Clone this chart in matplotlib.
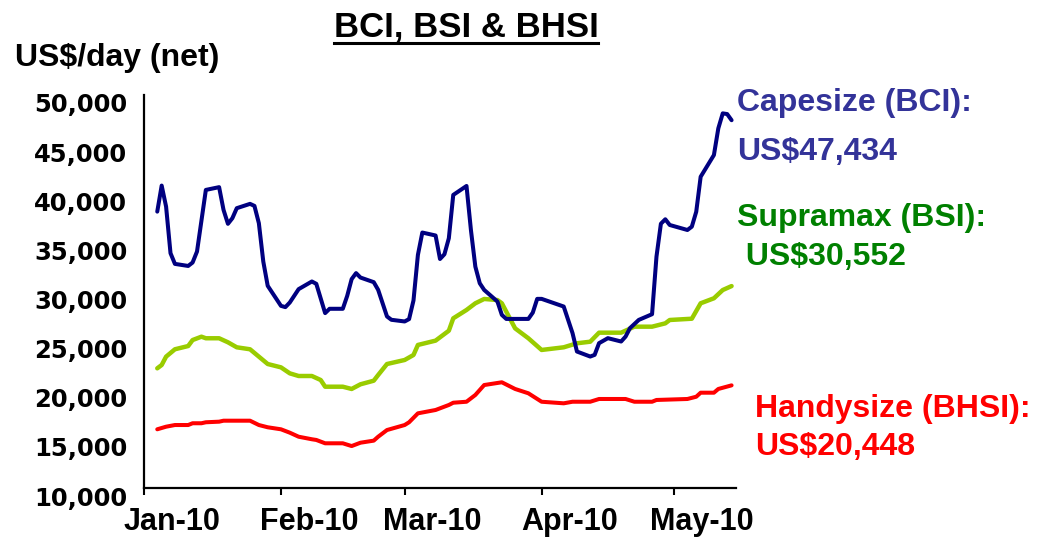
import matplotlib
matplotlib.use("Agg")
import matplotlib.pyplot as plt
import matplotlib.transforms as mtrans
import pandas as pd

# ---------------- data ----------------
bci_dates = ["2010-01-04", "2010-01-05", "2010-01-06", "2010-01-07", "2010-01-08",
             "2010-01-11", "2010-01-12", "2010-01-13", "2010-01-15", "2010-01-18",
             "2010-01-19", "2010-01-20", "2010-01-21", "2010-01-22", "2010-01-25",
             "2010-01-26", "2010-01-27", "2010-01-28", "2010-01-29", "2010-02-01",
             "2010-02-02", "2010-02-03", "2010-02-05", "2010-02-08", "2010-02-09",
             "2010-02-11", "2010-02-12", "2010-02-15", "2010-02-16", "2010-02-17",
             "2010-02-18", "2010-02-19", "2010-02-22", "2010-02-23", "2010-02-25",
             "2010-02-26", "2010-03-01", "2010-03-02", "2010-03-03", "2010-03-04",
             "2010-03-05", "2010-03-08", "2010-03-09", "2010-03-10", "2010-03-11",
             "2010-03-12", "2010-03-15", "2010-03-16", "2010-03-17", "2010-03-18",
             "2010-03-19", "2010-03-22", "2010-03-23", "2010-03-24", "2010-03-29",
             "2010-03-30", "2010-03-31", "2010-04-01", "2010-04-06", "2010-04-08",
             "2010-04-09", "2010-04-12", "2010-04-13", "2010-04-14", "2010-04-16",
             "2010-04-19", "2010-04-20", "2010-04-21", "2010-04-23", "2010-04-26",
             "2010-04-27", "2010-04-28", "2010-04-29", "2010-04-30", "2010-05-04",
             "2010-05-05", "2010-05-06", "2010-05-07", "2010-05-10", "2010-05-11",
             "2010-05-12", "2010-05-13", "2010-05-14"]
bci_values = [38130, 40780, 38640, 33900, 32810,
              32600, 32950, 34070, 40340, 40620,
              38310, 36890, 37460, 38480, 38920,
              38710, 36950, 33050, 30580, 28540,
              28410, 28880, 30240, 31020, 30780,
              27800, 28240, 28240, 29560, 31260,
              31870, 31420, 30950, 30170, 27460,
              27120, 26950, 27190, 29090, 33730,
              36000, 35700, 33310, 33790, 35420,
              39830, 40740, 36260, 32530, 30840,
              30160, 28980, 27620, 27210, 27210,
              27850, 29250, 29250, 28470, 25760,
              23890, 23380, 23550, 24740, 25250,
              24910, 25410, 26270, 27110, 27690,
              33550, 36900, 37350, 36770, 36260,
              36600, 38120, 41680, 43890, 46610,
              48130, 48060, 47434]

bsi_dates = ["2010-01-04", "2010-01-05", "2010-01-06", "2010-01-08", "2010-01-11",
             "2010-01-12", "2010-01-14", "2010-01-15", "2010-01-18", "2010-01-20",
             "2010-01-22", "2010-01-25", "2010-01-27", "2010-01-29", "2010-02-01",
             "2010-02-03", "2010-02-05", "2010-02-08", "2010-02-10", "2010-02-11",
             "2010-02-15", "2010-02-17", "2010-02-19", "2010-02-22", "2010-02-23",
             "2010-02-25", "2010-03-01", "2010-03-03", "2010-03-04", "2010-03-08",
             "2010-03-11", "2010-03-12", "2010-03-15", "2010-03-17", "2010-03-19",
             "2010-03-22", "2010-03-23", "2010-03-24", "2010-03-26", "2010-03-29",
             "2010-04-01", "2010-04-06", "2010-04-09", "2010-04-12", "2010-04-14",
             "2010-04-19", "2010-04-22", "2010-04-26", "2010-04-29", "2010-04-30",
             "2010-05-05", "2010-05-07", "2010-05-10", "2010-05-12", "2010-05-14"]
bsi_values = [22180, 22520, 23370, 24120, 24450,
              25060, 25400, 25240, 25240, 24830,
              24320, 24120, 23370, 22620, 22280,
              21670, 21400, 21400, 20990, 20310,
              20310, 20080, 20555, 20920, 21500,
              22620, 23030, 23540, 24560, 25000,
              26010, 27270, 28120, 28800, 29240,
              29130, 28800, 27950, 26250, 25240,
              24050, 24320, 24730, 24890, 25810,
              25810, 26420, 26420, 26760, 27100,
              27230, 28800, 29310, 30150, 30552]

bhsi_dates = ["2010-01-04", "2010-01-06", "2010-01-08", "2010-01-11", "2010-01-12",
              "2010-01-14", "2010-01-15", "2010-01-18", "2010-01-19", "2010-01-25",
              "2010-01-27", "2010-01-29", "2010-02-01", "2010-02-03", "2010-02-05",
              "2010-02-08", "2010-02-09", "2010-02-11", "2010-02-15", "2010-02-17",
              "2010-02-19", "2010-02-22", "2010-02-23", "2010-02-25", "2010-03-01",
              "2010-03-02", "2010-03-04", "2010-03-08", "2010-03-11", "2010-03-12",
              "2010-03-15", "2010-03-17", "2010-03-19", "2010-03-23", "2010-03-26",
              "2010-03-29", "2010-04-01", "2010-04-06", "2010-04-08", "2010-04-12",
              "2010-04-14", "2010-04-20", "2010-04-22", "2010-04-26", "2010-04-27",
              "2010-05-04", "2010-05-06", "2010-05-07", "2010-05-10", "2010-05-11",
              "2010-05-14"]
bhsi_values = [15975, 16240, 16410, 16410, 16590,
               16590, 16690, 16750, 16850, 16850,
               16410, 16180, 15975, 15630, 15220,
               14960, 14890, 14550, 14550, 14270,
               14610, 14820, 15220, 15900, 16410,
               16690, 17600, 17940, 18450, 18680,
               18780, 19470, 20480, 20760, 20080,
               19640, 18780, 18620, 18780, 18780,
               19060, 19060, 18780, 18780, 18960,
               19060, 19290, 19700, 19700, 20080,
               20448]

ytick_values = [10000, 15000, 20000, 25000, 30000, 35000, 40000, 45000, 50000]
ytick_labels = ["10,000", "15,000", "20,000", "25,000", "30,000",
                "35,000", "40,000", "45,000", "50,000"]
xtick_dates = ["2010-01-01", "2010-02-01", "2010-03-01", "2010-04-01", "2010-05-01"]
xtick_labels = ["Jan-10", "Feb-10", "Mar-10", "Apr-10", "May-10"]

title = "BCI, BSI & BHSI"
ylabel = "US$/day (net)"
bci_name = "Capesize (BCI):"
bsi_name = "Supramax (BSI):"
bhsi_name = "Handysize (BHSI):"

# ---------------- figure ----------------
W, H = 1049, 540
fig = plt.figure(figsize=(W / 100, H / 100), dpi=100)
ax = fig.add_axes([144 / W, 1 - 488 / H, 592 / W, 393 / H])

AR = "Liberation Sans"
DV = "DejaVu Sans"

ax.plot(pd.to_datetime(bsi_dates), bsi_values, color="#99CC00", lw=3.2,
        solid_joinstyle="round", solid_capstyle="round", zorder=2)
ax.plot(pd.to_datetime(bhsi_dates), bhsi_values, color="#FF0000", lw=2.9,
        solid_joinstyle="round", solid_capstyle="round", zorder=3)
ax.plot(pd.to_datetime(bci_dates), bci_values, color="#000080", lw=2.9,
        solid_joinstyle="round", solid_capstyle="round", zorder=4)

ax.set_ylim(10000, 50000)
ax.set_xlim(pd.Timestamp("2010-01-01"), pd.Timestamp("2010-05-15"))

for s in ["top", "right"]:
    ax.spines[s].set_visible(False)
for s in ["left", "bottom"]:
    ax.spines[s].set_linewidth(1.6)
    ax.spines[s].set_color("black")

ax.set_yticks(ytick_values, labels=ytick_labels, fontfamily=DV,
              fontweight="bold", fontsize=17.5)
ax.tick_params(axis="y", length=0, pad=12)
ax.set_xticks(pd.to_datetime(xtick_dates), labels=xtick_labels, fontfamily=AR,
              fontweight="bold", fontsize=22)
ax.tick_params(axis="x", direction="out", length=5, width=1.5, pad=9)

dy = mtrans.ScaledTranslation(0, -8 / 100, fig.dpi_scale_trans)
for t in ax.yaxis.get_major_ticks():
    t.label1.set_transform(t.label1.get_transform() + dy)
dx = mtrans.ScaledTranslation(28 / 100, 0, fig.dpi_scale_trans)
for t in ax.xaxis.get_major_ticks():
    t.label1.set_transform(t.label1.get_transform() + dx)


def fy(ypx):
    return 1 - ypx / H


# title with underline
ttl = fig.text(466 / W, fy(37), title, ha="center", va="baseline",
               fontsize=25, fontweight="bold", family=AR)
fig.canvas.draw()
bb = ttl.get_window_extent()
fig.add_artist(plt.Line2D([bb.x0 / W, bb.x1 / W], [fy(43), fy(43)],
                          color="black", lw=2.2, transform=fig.transFigure))

fig.text(15 / W, fy(66), ylabel, ha="left", va="baseline",
         fontsize=23, fontweight="bold", family=AR)

fs = 23
fig.text(737 / W, fy(111), bci_name, color="#333399", fontsize=fs,
         fontweight="bold", family=AR, va="baseline")
fig.text(737 / W, fy(160), f"US${bci_values[-1]:,}", color="#333399", fontsize=fs,
         fontweight="bold", family=AR, va="baseline")
fig.text(737 / W, fy(226), bsi_name, color="#008000", fontsize=fs,
         fontweight="bold", family=AR, va="baseline")
fig.text(737 / W, fy(265), f" US${bsi_values[-1]:,}", color="#008000", fontsize=fs,
         fontweight="bold", family=AR, va="baseline")
fig.text(755 / W, fy(417), bhsi_name, color="#FF0000", fontsize=fs,
         fontweight="bold", family=AR, va="baseline")
fig.text(755 / W, fy(455), f"US${bhsi_values[-1]:,}", color="#FF0000", fontsize=fs,
         fontweight="bold", family=AR, va="baseline")

fig.savefig("out.png", dpi=100)
